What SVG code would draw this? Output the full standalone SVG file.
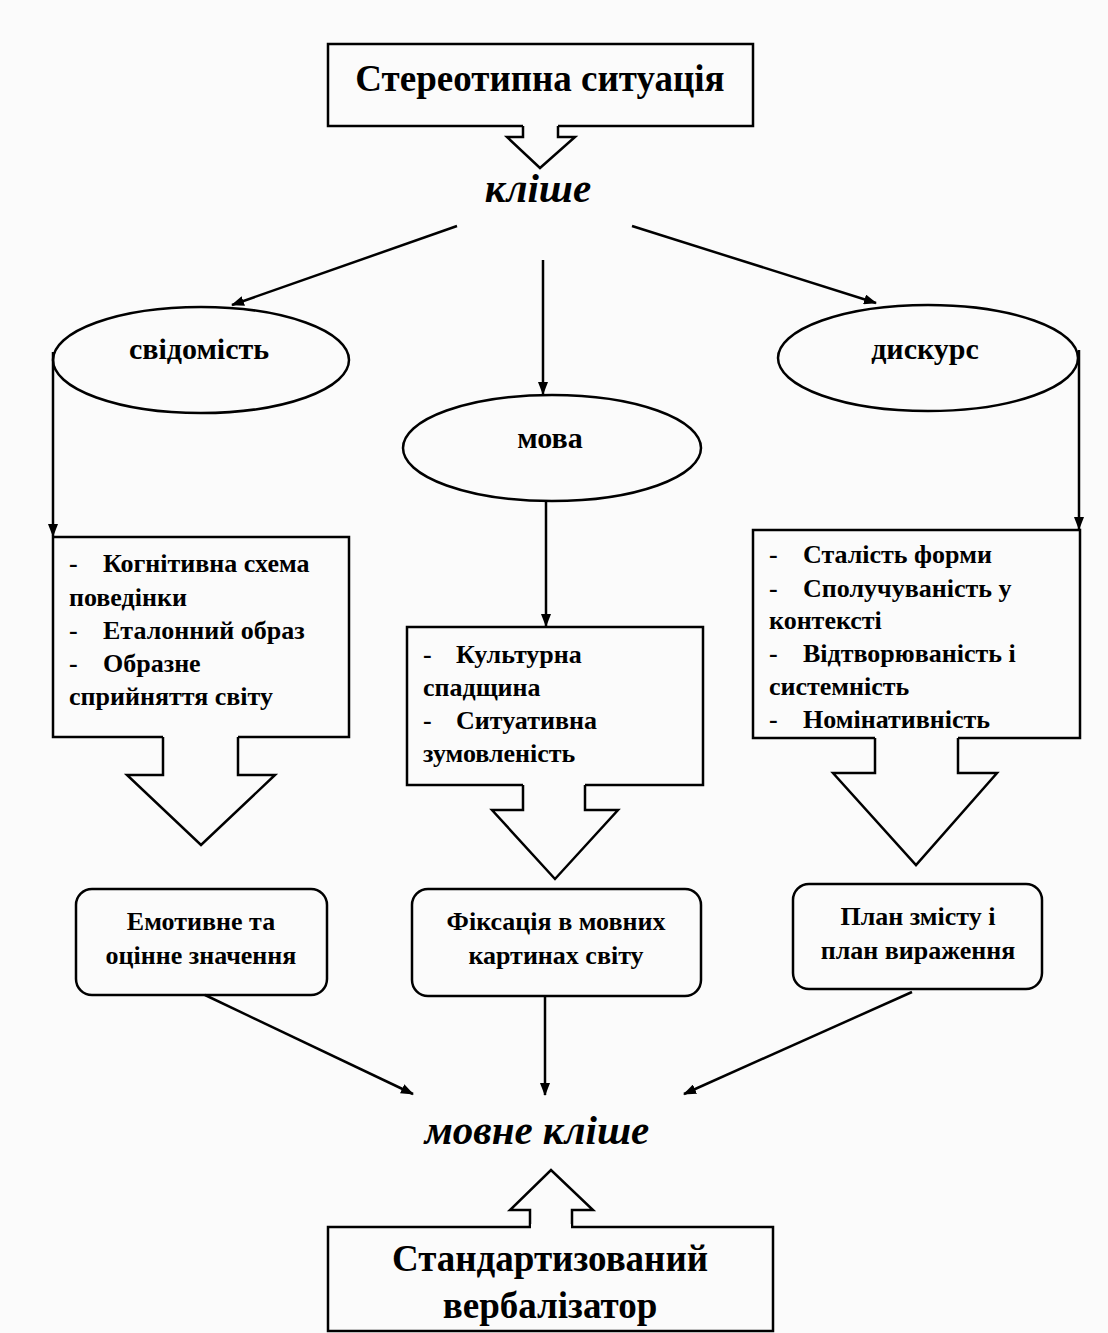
<svg xmlns="http://www.w3.org/2000/svg" width="1108" height="1333" viewBox="0 0 1108 1333">
<defs>
<marker id="ah" viewBox="0 0 13 10" refX="12" refY="5" markerWidth="13" markerHeight="10" markerUnits="userSpaceOnUse" orient="auto">
<path d="M0,0 L13,5 L0,10 z" fill="#000"/>
</marker>
<style>
.shape{fill:#fbfbfb;stroke:#000;stroke-width:2.5}
.hfill{fill:#fbfbfb;stroke:none}
.hollow{fill:none;stroke:#000;stroke-width:2.5;stroke-linejoin:miter}
.conn{fill:none;stroke:#000;stroke-width:2.5;marker-end:url(#ah)}
.t{font-family:"Liberation Serif","Times New Roman",serif;fill:#000}
.title{font-size:37px;font-weight:bold;text-anchor:middle}
.ital{font-size:41px;font-weight:bold;font-style:italic;text-anchor:middle}
.ell{font-size:30px;font-weight:bold;text-anchor:middle}
.list{font-size:26px;font-weight:bold}
.rb{font-size:26px;font-weight:bold;text-anchor:middle}
</style>
</defs>
<rect width="1108" height="1333" fill="#fbfbfb"/>

<g id="top-box">
<rect class="shape" x="328" y="44" width="425" height="82"/>
<text class="t title" x="540" y="91">Стереотипна ситуація</text>
</g>
<g id="top-arrow">
<path class="hfill" d="M523,123 L523,137 L507,137 L540,168 L575,137 L558,137 L558,123 z"/>
<path class="hollow" d="M523,126 L523,137 L507,137 L540,168 L575,137 L558,137 L558,126"/>
</g>
<g id="klishe">
<text class="t ital" x="538" y="202">кліше</text>
</g>

<g id="svidomist">
<ellipse class="shape" cx="201" cy="360" rx="148" ry="53"/>
<text class="t ell" x="199" y="359">свідомість</text>
</g>
<g id="mova">
<ellipse class="shape" cx="552" cy="448" rx="149" ry="53"/>
<text class="t ell" x="550" y="448">мова</text>
</g>
<g id="dyskurs">
<ellipse class="shape" cx="928" cy="358" rx="150" ry="53"/>
<text class="t ell" x="925" y="359">дискурс</text>
</g>

<g id="box-left">
<rect class="shape" x="53" y="537" width="296" height="200"/>
<text class="t list" x="69" y="572">-</text><text class="t list" x="103" y="572">Когнітивна схема</text>
<text class="t list" x="69" y="606">поведінки</text>
<text class="t list" x="69" y="639">-</text><text class="t list" x="103" y="639">Еталонний образ</text>
<text class="t list" x="69" y="672">-</text><text class="t list" x="103" y="672">Образне</text>
<text class="t list" x="69" y="705">сприйняття світу</text>
</g>
<g id="box-mid">
<rect class="shape" x="407" y="627" width="296" height="158"/>
<text class="t list" x="423" y="663">-</text><text class="t list" x="456" y="663">Культурна</text>
<text class="t list" x="423" y="696">спадщина</text>
<text class="t list" x="423" y="729">-</text><text class="t list" x="456" y="729">Ситуативна</text>
<text class="t list" x="423" y="762">зумовленість</text>
</g>
<g id="box-right">
<rect class="shape" x="753" y="530" width="327" height="208"/>
<text class="t list" x="769" y="563">-</text><text class="t list" x="803" y="563">Сталість форми</text>
<text class="t list" x="769" y="597">-</text><text class="t list" x="803" y="597">Сполучуваність у</text>
<text class="t list" x="769" y="629">контексті</text>
<text class="t list" x="769" y="662">-</text><text class="t list" x="803" y="662">Відтворюваність і</text>
<text class="t list" x="769" y="695">системність</text>
<text class="t list" x="769" y="728">-</text><text class="t list" x="803" y="728">Номінативність</text>
</g>

<g id="hollow-left">
<path class="hfill" d="M163,734 L163,775 L127,775 L201,845 L275,775 L238,775 L238,734 z"/>
<path class="hollow" d="M163,737 L163,775 L127,775 L201,845 L275,775 L238,775 L238,737"/>
</g>
<g id="hollow-mid">
<path class="hfill" d="M523,782 L523,810 L492,810 L555,879 L618,810 L585,810 L585,782 z"/>
<path class="hollow" d="M523,785 L523,810 L492,810 L555,879 L618,810 L585,810 L585,785"/>
</g>
<g id="hollow-right">
<path class="hfill" d="M875,735 L875,773 L833,773 L916,865 L997,773 L958,773 L958,735 z"/>
<path class="hollow" d="M875,738 L875,773 L833,773 L916,865 L997,773 L958,773 L958,738"/>
</g>

<g id="res-left">
<rect class="shape" x="76" y="889" width="251" height="106" rx="16"/>
<text class="t rb" x="201" y="930">Емотивне та</text>
<text class="t rb" x="201" y="964">оцінне значення</text>
</g>
<g id="res-mid">
<rect class="shape" x="412" y="889" width="289" height="107" rx="16"/>
<text class="t rb" x="556" y="930">Фіксація в мовних</text>
<text class="t rb" x="556" y="964">картинах світу</text>
</g>
<g id="res-right">
<rect class="shape" x="793" y="884" width="249" height="105" rx="16"/>
<text class="t rb" x="918" y="925">План змісту і</text>
<text class="t rb" x="918" y="959">план вираження</text>
</g>

<g id="movne-klishe">
<text class="t ital" x="537" y="1144">мовне кліше</text>
</g>
<g id="up-arrow">
<path class="hfill" d="M530,1230 L530,1210 L510,1210 L551,1170 L593,1210 L572,1210 L572,1230 z"/>
<path class="hollow" d="M530,1227 L530,1210 L510,1210 L551,1170 L593,1210 L572,1210 L572,1227"/>
</g>
<g id="bottom-box">
<rect class="shape" x="328" y="1227" width="445" height="104"/>
<path class="hfill" d="M531,1224 L571,1224 L571,1230 L531,1230 z"/>
<text class="t title" x="550" y="1271">Стандартизований</text>
<text class="t title" x="550" y="1318">вербалізатор</text>
</g>

<g id="connectors">
<path class="conn" d="M457,226 L232,305"/>
<path class="conn" d="M543,260 L543,394"/>
<path class="conn" d="M632,226 L876,303"/>
<path class="conn" d="M53,352 L53,536"/>
<path class="conn" d="M546,501 L546,626"/>
<path class="conn" d="M1079,350 L1079,529"/>
<path class="conn" d="M205,995 L413,1094"/>
<path class="conn" d="M545,996 L545,1095"/>
<path class="conn" d="M912,992 L684,1094"/>
</g>
</svg>
